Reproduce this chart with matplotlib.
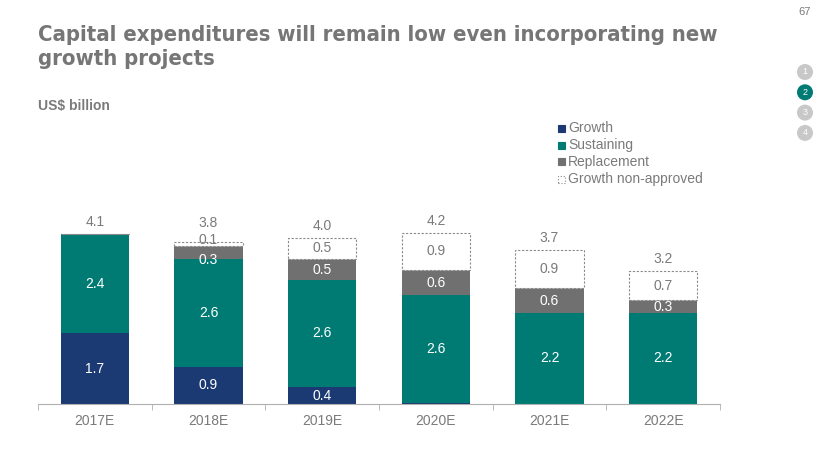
import matplotlib.pyplot as plt
from matplotlib.patches import Circle, Rectangle
import numpy as np

years = ['2017E', '2018E', '2019E', '2020E', '2021E', '2022E']
growth = [1.7, 0.9, 0.4, 0.03, 0.0, 0.0]
sustaining = [2.4, 2.6, 2.6, 2.6, 2.2, 2.2]
replacement = [0.0, 0.3, 0.5, 0.6, 0.6, 0.3]
non_approved = [0.0, 0.1, 0.5, 0.9, 0.9, 0.7]
totals = [4.1, 3.8, 4.0, 4.2, 3.7, 3.2]

NAVY = '#1b3a73'
TEAL = '#007b74'
GREY = '#707070'
TXT = '#7a7a7a'

plt.rcParams['font.family'] = ['Liberation Sans', 'DejaVu Sans']

fig = plt.figure(figsize=(8.3, 4.67), dpi=100)
ax = fig.add_axes([38 / 830, 1 - 404 / 467, 682 / 830, 186.75 / 467])

x = np.arange(len(years))
w = 0.6
ax.bar(x, growth, w, color=NAVY, zorder=2)
b1 = np.array(growth)
ax.bar(x, sustaining, w, bottom=b1, color=TEAL, zorder=2)
b2 = b1 + np.array(sustaining)
ax.bar(x, replacement, w, bottom=b2, color=GREY, zorder=2)
b3 = b2 + np.array(replacement)
ax.bar(x, non_approved, w, bottom=b3, facecolor='white', edgecolor='#8a8a8a',
       linestyle=(0, (2, 1.5)), linewidth=0.8, zorder=2)

for i in range(len(years)):
    top = b3[i] + non_approved[i]
    small = 0 < non_approved[i] < 0.2
    if growth[i] >= 0.1:
        ax.text(x[i], growth[i] / 2, f'{growth[i]:.1f}', ha='center', va='center',
                color='white', fontsize=10)
    ax.text(x[i], b1[i] + sustaining[i] / 2, f'{sustaining[i]:.1f}', ha='center',
            va='center', color='white', fontsize=10)
    if replacement[i] > 0:
        shift = 0.17 if small else 0.02
        ax.text(x[i], b2[i] + replacement[i] / 2 - shift, f'{replacement[i]:.1f}', ha='center',
                va='center', color='white', fontsize=10, zorder=3)
    gap = 0.12
    if non_approved[i] > 0:
        yy = b3[i] + non_approved[i] / 2
        if small:
            yy = top + 0.05
            gap = 0.3
        ax.text(x[i], yy, f'{non_approved[i]:.1f}', ha='center', va='center',
                color=TXT, fontsize=10, zorder=3)
    ax.text(x[i], top + gap, f'{totals[i]:.1f}', ha='center',
            va='bottom', color=TXT, fontsize=10)

ax.set_xlim(-0.5, len(years) - 0.5)
ax.set_ylim(0, 4.5)
ax.set_yticks([])
for s in ['top', 'right', 'left']:
    ax.spines[s].set_visible(False)
ax.spines['bottom'].set_color('#b0b0b0')
ax.set_xticks(np.arange(-0.5, len(years)), minor=True)
ax.set_xticks(x)
ax.set_xticklabels(years, color=TXT, fontsize=10)
ax.tick_params(axis='x', which='major', length=0, pad=7)
ax.tick_params(axis='x', which='minor', length=4, color='#b0b0b0')

# legend
leg = [('Growth', NAVY, NAVY, '-'), ('Sustaining', TEAL, TEAL, '-'),
       ('Replacement', GREY, GREY, '-'), ('Growth non-approved', 'white', '#8a8a8a', ':')]
for k, (lab, fc, ec, ls) in enumerate(leg):
    yp = 1 - (128 + 17 * k) / 467
    fig.patches.append(Rectangle((558 / 830, yp - 3.5 / 467), 7 / 830, 7 / 467,
                                 transform=fig.transFigure, facecolor=fc,
                                 edgecolor=ec, linestyle=ls, linewidth=0.8))
    fig.text(568 / 830, yp, lab, color=TXT, fontsize=10, va='center')

fig.text(38 / 830, 1 - 47 / 467, 'Capital expenditures will remain low even incorporating new\ngrowth projects',
         family='DejaVu Sans', fontstretch='condensed', fontsize=15.8, fontweight='bold',
         color='#767676', va='center', linespacing=1.3)
fig.text(38 / 830, 1 - 106 / 467, 'US$ billion', fontsize=10, fontweight='bold',
         color='#7a7a7a', va='center')
fig.text(805 / 830, 1 - 12 / 467, '67', fontsize=8, color='#7a7a7a', ha='center', va='center')

for k in range(4):
    cy = 467 - (72 + 20.3 * k)
    col = TEAL if k == 1 else '#c8c8c8'
    fig.patches.append(Circle((8.05, cy / 100), 0.08, transform=fig.dpi_scale_trans,
                              facecolor=col, edgecolor='none'))
    fig.text(805 / 830, cy / 467, str(k + 1), fontsize=6.5, color='white',
             ha='center', va='center')

fig.savefig('out.png', dpi=100)
